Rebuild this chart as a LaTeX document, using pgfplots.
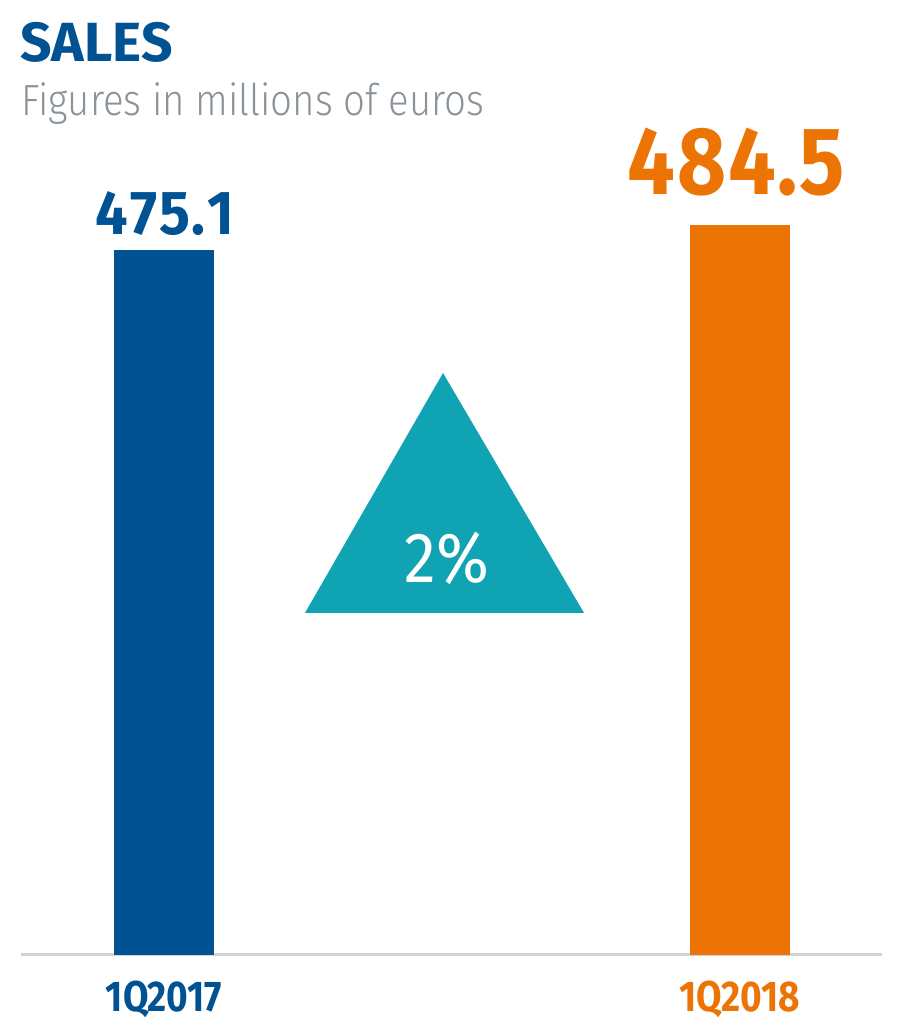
\documentclass[border=0pt]{standalone}
\usepackage{pgfplots}
\pgfplotsset{compat=1.18}
\usepackage{fontspec}
\setmainfont{Fira Sans}
\newfontfamily\firalight{Fira Sans Light}
\definecolor{cblue}{HTML}{005293}
\definecolor{corange}{HTML}{EC7404}
\definecolor{cteal}{HTML}{10A3B3}
\definecolor{cgray}{HTML}{8A9399}
\definecolor{lgray}{HTML}{CCD3D9}
\begin{document}
\begin{tikzpicture}
\useasboundingbox (0,0) rectangle (451.5pt,517.5pt);
\node[anchor=base west, inner sep=0pt, text=cblue, font=\bfseries\fontsize{27.6}{30}\selectfont] at (10pt,486.5pt) {SALES};
\node[anchor=base west, inner sep=0pt, text=cgray, font=\firalight\fontsize{21.8}{24}\selectfont] at (10.5pt,459.5pt) {\scalebox{0.88}[1]{Figures in millions of euros}};
\begin{axis}[
  at={(10.5pt,40pt)}, anchor=south west,
  scale only axis, width=430.5pt, height=427.5pt,
  xmin=-0.2485, xmax=1.2476, ymin=210, ymax=531.43,
  axis x line=bottom, axis y line=none,
  x axis line style={-, draw=lgray, line width=1.5pt},
  xtick={0,1}, major tick length=0pt,
  xticklabels={\textcolor{cblue}{\scalebox{0.86}[1]{1Q2017}},\textcolor{corange}{\scalebox{0.86}[1]{1Q2018}}},
  xticklabel style={anchor=base, yshift=-28pt, font=\bfseries\fontsize{21.5}{24}\selectfont},
  ytick=\empty,
]
\addplot[ybar, bar width=50pt, fill=cblue, draw=none] coordinates {(0,475.1)};
\addplot[ybar, bar width=50pt, fill=corange, draw=none] coordinates {(1,484.5)};
\addplot[fill=cteal, draw=none] coordinates {(0.245,338.6) (0.4848,428.8) (0.7298,338.6) (0.245,338.6)};
\node[anchor=base, inner sep=0pt, text=cblue, font=\bfseries\fontsize{31}{34}\selectfont, yshift=7.5pt, xshift=0.5pt] at (axis cs:0,475.1) {\scalebox{0.93}[1]{4\kern1pt7\kern1pt5\kern1pt.\kern1pt1}};
\node[anchor=base, inner sep=0pt, text=corange, font=\bfseries\fontsize{48}{52}\selectfont, yshift=15pt, xshift=-1.5pt] at (axis cs:1,484.5) {\scalebox{0.88}[1]{4\kern1pt8\kern1pt4\kern1pt.\kern1pt5}};
\node[anchor=base, inner sep=0pt, text=white, font=\fontsize{35.5}{38}\selectfont] at (axis cs:0.4917,350.2) {\scalebox{0.9}[1]{2\%}};
\end{axis}
\end{tikzpicture}
\end{document}
